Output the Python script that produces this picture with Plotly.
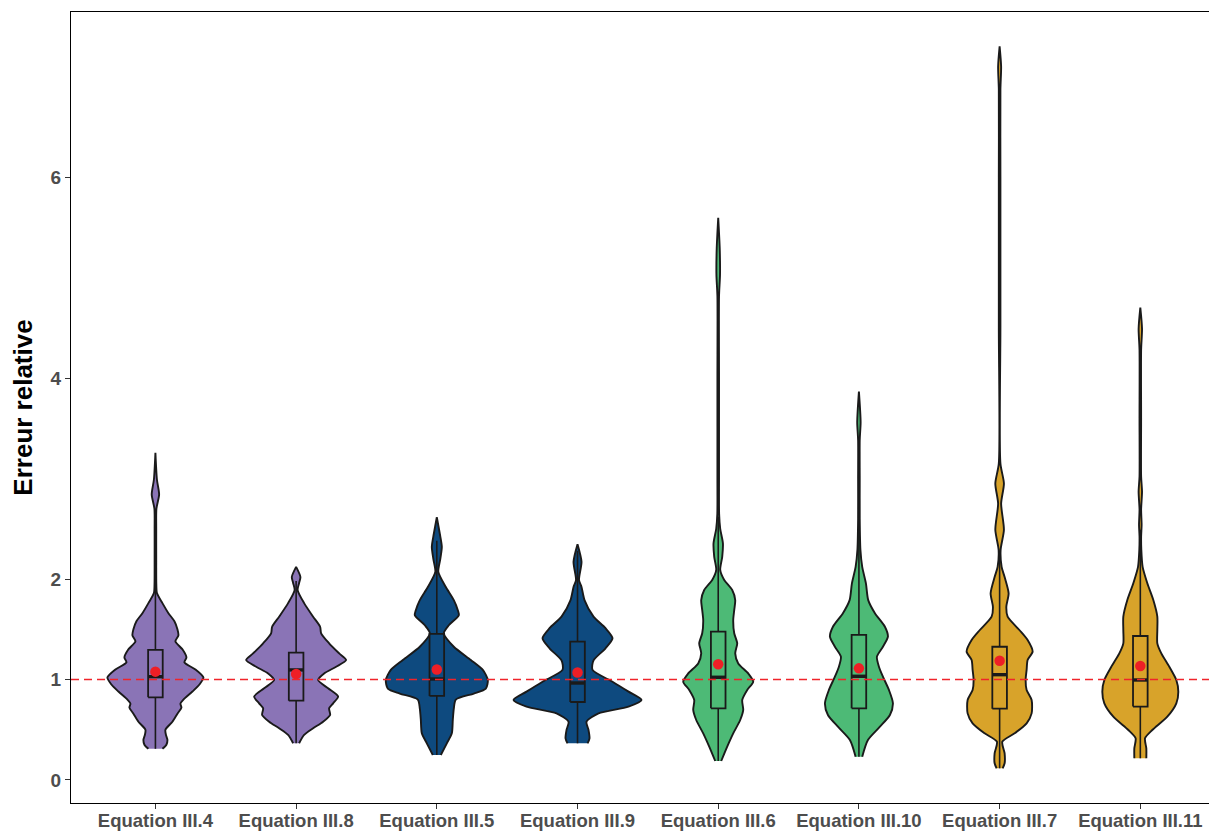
import plotly.graph_objects as go

# ---------------- data ----------------
categories = ["Equation III.4", "Equation III.8", "Equation III.5", "Equation III.9",
              "Equation III.6", "Equation III.10", "Equation III.7", "Equation III.11"]

# violin density profiles: value levels (y) and relative half-widths (density)
y_III4 = [0.31, 0.35, 0.40, 0.45, 0.50, 0.58, 0.66, 0.72, 0.76, 0.80, 0.88, 0.95, 1.02, 1.10, 1.17, 1.22,
          1.30, 1.38, 1.44, 1.50, 1.58, 1.66, 1.76, 1.86, 1.95, 2.2, 2.5, 2.70, 2.84, 2.99, 3.257]
d_III4 = [7, 11, 12, 10.5, 10, 17, 22, 26, 25, 28, 37, 44, 48, 40, 29, 31,
          27, 20, 23, 22, 19, 13, 7, 1.5, 0.9, 0.8, 0.8, 1.0, 3.7, 1.5, 0]

y_III8 = [0.365, 0.448, 0.514, 0.58, 0.647, 0.713, 0.763, 0.83, 0.912, 0.995, 1.06, 1.127, 1.194, 1.26,
          1.36, 1.46, 1.525, 1.625, 1.76, 1.89, 1.96, 2.02, 2.12]
d_III8 = [3, 8, 17, 27, 34, 33, 37, 42, 32, 22, 28, 40, 50, 43,
          33, 25, 24, 17, 8, 1.5, 3, 4.3, 0]

y_III5 = [0.249, 0.365, 0.464, 0.60, 0.71, 0.80, 0.86, 0.91, 0.995, 1.095, 1.194, 1.326, 1.46, 1.54,
          1.64, 1.69, 1.79, 1.92, 2.07, 2.2, 2.32, 2.45, 2.614]
d_III5 = [4, 10, 15, 16, 17, 19, 37, 49, 51, 46, 34, 17, 7, 12,
          22, 21, 17, 9, 1.5, 3.5, 5, 3, 0]

y_III9 = [0.365, 0.415, 0.4975, 0.58, 0.663, 0.73, 0.796, 0.879, 0.978, 1.095, 1.19, 1.31, 1.41, 1.51,
          1.625, 1.79, 1.92, 1.99, 2.17, 2.345]
d_III9 = [10, 12, 11, 9, 21, 51, 64, 51, 35, 15, 16, 28, 35, 28,
          16, 7, 4, 1.5, 4, 0]

y_III6 = [0.189, 0.332, 0.464, 0.597, 0.697, 0.796, 0.896, 0.978, 1.06, 1.16, 1.26, 1.36, 1.46, 1.59,
          1.69, 1.79, 1.89, 1.99, 2.09, 2.22, 2.355, 2.5, 2.65, 3.0, 4.0, 4.81, 5.03, 5.29, 5.594]
d_III6 = [3, 9, 15, 22, 25, 24, 29, 35, 30, 20, 17, 19, 16, 15,
          16, 17, 14, 6, 2, 4, 4.7, 2, 0.9, 0.8, 0.8, 0.8, 1.8, 1.5, 0]

y_III10 = [0.232, 0.398, 0.53, 0.647, 0.763, 0.896, 1.028, 1.127, 1.227, 1.326, 1.426, 1.525, 1.66, 1.79,
           1.957, 2.12, 2.29, 2.6, 3.0, 3.38, 3.56, 3.864]
d_III10 = [3.3, 9, 21, 31, 34, 30, 24, 20, 18, 24, 29, 26, 16, 9.3,
           7, 3.3, 1.5, 0.8, 0.8, 0.8, 1.7, 0]

y_III7 = [0.116, 0.166, 0.265, 0.381, 0.464, 0.564, 0.663, 0.796, 0.896, 0.995, 1.095, 1.194, 1.277, 1.393,
          1.49, 1.625, 1.724, 1.858, 2.02, 2.12, 2.29, 2.49, 2.75, 2.95, 3.15, 4.5, 6.0, 6.87, 7.10, 7.30]
d_III7 = [3, 5, 5, 2.7, 15, 27, 32, 32, 27, 26, 27, 28, 33, 28,
          20, 8, 6.7, 9, 5, 2, 1, 4.3, 1.5, 4.3, 0.8, 0.8, 0.8, 0.8, 1.5, 0]

y_III11 = [0.216, 0.315, 0.415, 0.4975, 0.63, 0.763, 0.879, 0.995, 1.127, 1.26, 1.36, 1.49, 1.625, 1.79,
           1.957, 2.12, 2.29, 2.42, 2.54, 2.69, 2.87, 3.02, 3.6, 4.28, 4.49, 4.70]
d_III11 = [6, 6, 4.7, 12, 27, 36, 38, 36, 29, 21, 17, 17, 17, 13,
           7, 2.3, 1, 0.8, 1.3, 0.8, 1.7, 0.8, 0.8, 0.8, 1.7, 0]

profiles_y = [y_III4, y_III8, y_III5, y_III9, y_III6, y_III10, y_III7, y_III11]
profiles_d = [d_III4, d_III8, d_III5, d_III9, d_III6, d_III10, d_III7, d_III11]

# box-plot statistics
q1 = [0.823, 0.789, 0.836, 0.776, 0.713, 0.713, 0.710, 0.730]
median = [1.028, 1.095, 1.005, 0.965, 1.022, 1.032, 1.048, 0.995]
q3 = [1.294, 1.267, 1.453, 1.376, 1.476, 1.443, 1.326, 1.433]
lower_whisker = [0.31, 0.365, 0.249, 0.365, 0.189, 0.232, 0.116, 0.216]
upper_whisker = [2.00, 1.98, 2.38, 2.28, 2.62, 2.54, 2.25, 2.49]
mean = [1.078, 1.055, 1.100, 1.070, 1.151, 1.111, 1.187, 1.134]

reference_value = 1
y_ticks = [0, 1, 2, 4, 6]

# ---------------- style ----------------
fills = ["#8A74B6", "#8A74B6", "#0E4A7F", "#0E4A7F",
         "#4DBA76", "#4DBA76", "#D8A32A", "#D8A32A"]
outline = "#1a1a1a"
px_per_unit = 140.7
density_scale = 1 / px_per_unit   # density unit -> category-axis units
box_half = 7.3 / px_per_unit
FONT = "Liberation Sans, Arial, sans-serif"

# page body has an 8px default margin: shrink figure accordingly
OFF = 8
W, H = 1217 - OFF, 831 - OFF

fig = go.Figure()
positions = list(range(1, len(categories) + 1))

for pos, ys, ds, col in zip(positions, profiles_y, profiles_d, fills):
    xr = [pos + d * density_scale for d in ds]
    xl = [pos - d * density_scale for d in reversed(ds)]
    fig.add_trace(go.Scatter(
        x=xr + xl, y=ys + ys[::-1], mode="lines", fill="toself", fillcolor=col,
        line=dict(color=outline, width=1.9, shape="spline", smoothing=0.7),
        hoverinfo="skip", showlegend=False))

for k, pos in enumerate(positions):
    # whiskers
    fig.add_trace(go.Scatter(
        x=[pos, pos, None, pos, pos],
        y=[lower_whisker[k], q1[k], None, q3[k], upper_whisker[k]],
        mode="lines", line=dict(color=outline, width=1.6),
        hoverinfo="skip", showlegend=False))
    # box
    fig.add_trace(go.Scatter(
        x=[pos - box_half, pos + box_half, pos + box_half, pos - box_half, pos - box_half],
        y=[q1[k], q1[k], q3[k], q3[k], q1[k]],
        mode="lines", line=dict(color=outline, width=1.8),
        hoverinfo="skip", showlegend=False))
    # median
    fig.add_trace(go.Scatter(
        x=[pos - box_half, pos + box_half], y=[median[k], median[k]],
        mode="lines", line=dict(color=outline, width=3.4),
        hoverinfo="skip", showlegend=False))

fig.add_trace(go.Scatter(
    x=positions, y=mean, mode="markers",
    marker=dict(color="#EE1F26", size=10.5, line=dict(width=0)),
    hoverinfo="skip", showlegend=False))

fig.add_hline(y=reference_value, line=dict(color="#F0242B", width=1.7, dash="8px,5px"), layer="above")

fig.update_layout(
    width=W, height=H,
    margin=dict(l=71 - OFF, r=0, t=12 - OFF, b=28),
    paper_bgcolor="white", plot_bgcolor="white",
    showlegend=False,
    xaxis=dict(
        range=[0.4, 0.4 + (1217 - 71) / px_per_unit],
        tickmode="array", tickvals=positions, ticktext=categories,
        tickfont=dict(family=FONT, size=18.5, color="#4D4D4D", weight="bold"),
        showline=True, linecolor="black", linewidth=1.2, mirror=True,
        ticks="outside", ticklen=5, tickcolor="#333333", tickwidth=1.2,
        ticklabelstandoff=-4,
        showgrid=False, zeroline=False, automargin=False),
    yaxis=dict(
        range=[-0.229, 7.642],
        tickmode="array", tickvals=y_ticks,
        tickfont=dict(family=FONT, size=19, color="#4D4D4D", weight="bold"),
        showline=True, linecolor="black", linewidth=1.2, mirror=False,
        ticks="outside", ticklen=5, tickcolor="#333333", tickwidth=1.2,
        showgrid=False, zeroline=False, automargin=False,
        title=dict(text="Erreur relative", standoff=14,
                   font=dict(family=FONT, size=26, color="black", weight="bold"))),
)

fig.write_html("out.html")
